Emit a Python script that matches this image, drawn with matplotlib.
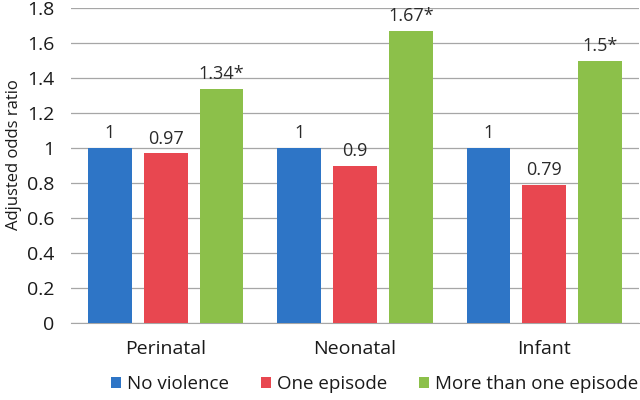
import numpy as np
import matplotlib.pyplot as plt

plt.rcParams['font.family'] = ['Open Sans', 'DejaVu Sans']

categories = ['Perinatal', 'Neonatal', 'Infant']
series_names = ['No violence', 'One episode', 'More than one episode']
no_violence = [1, 1, 1]
one_episode = [0.97, 0.9, 0.79]
more_than_one = [1.34, 1.67, 1.5]
bar_labels = [['1', '1', '1'], ['0.97', '0.9', '0.79'], ['1.34*', '1.67*', '1.5*']]
colors = ['#2E75C6', '#E84750', '#8CC04A']

fig = plt.figure(figsize=(6.4, 4), dpi=100)
ax = fig.add_axes([71 / 640, 1 - 323 / 400, 568 / 640, 315 / 400])

x = np.arange(len(categories))
width = 0.232
step = 0.295
for i, (vals, name) in enumerate(zip([no_violence, one_episode, more_than_one], series_names)):
    bars = ax.bar(x + (i - 1) * step, vals, width, color=colors[i], label=name, zorder=3)
    for b, lab in zip(bars, bar_labels[i]):
        ax.annotate(lab, (b.get_x() + b.get_width() / 2, b.get_height()),
                    xytext=(0, 4), textcoords='offset points',
                    ha='center', va='bottom', fontsize=13, color='#2a2a2a')

ax.set_xlim(-0.5, 2.5)
ax.set_ylim(0, 1.8)
ax.set_yticks(np.arange(0, 1.81, 0.2))
ax.set_yticklabels(['0', '0.2', '0.4', '0.6', '0.8', '1', '1.2', '1.4', '1.6', '1.8'])
ax.yaxis.grid(True, color='#A6A6A6', linewidth=0.9, zorder=0)
ax.set_xticks(x)
ax.set_xticklabels(categories)
for s in ['top', 'right', 'left']:
    ax.spines[s].set_visible(False)
ax.spines['bottom'].set_color('#A6A6A6')
ax.tick_params(axis='y', length=0, labelsize=14, colors='#1a1a1a', pad=12)
ax.tick_params(axis='x', length=0, labelsize=14, colors='#1a1a1a', pad=12)
ax.set_ylabel('Adjusted odds ratio', fontsize=12, color='#1a1a1a')
ax.yaxis.set_label_coords(-0.087, 0.536)

fig.legend(loc='center', bbox_to_anchor=(0.585, 0.04), ncol=3, frameon=False,
           fontsize=13.5, handlelength=0.55, handleheight=0.55, handletextpad=0.3,
           columnspacing=1.7, borderaxespad=0, labelcolor='#1a1a1a')

fig.savefig('out.png', dpi=100)
